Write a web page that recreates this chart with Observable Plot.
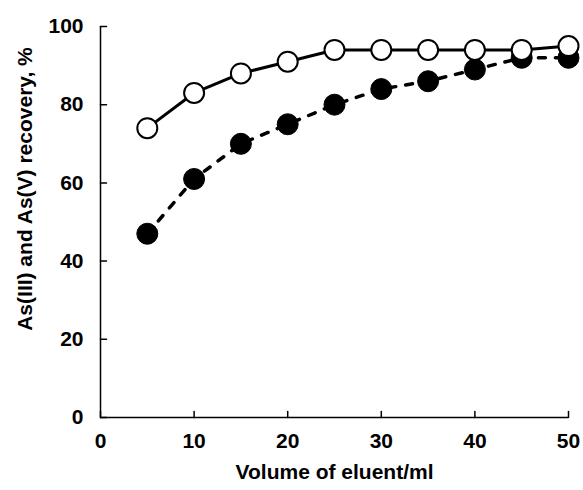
<!DOCTYPE html>
<html>
<head>
<meta charset="utf-8">
<script src="https://cdn.jsdelivr.net/npm/d3@7"></script>
<script src="https://cdn.jsdelivr.net/npm/@observablehq/plot@0.6"></script>
<style>
  html, body { margin: 0; padding: 0; background: #fff; }
  #chart svg { display: block; }
</style>
</head>
<body>
<div id="chart"></div>
<script>
const volume = [5, 10, 15, 20, 25, 30, 35, 40, 45, 50];
const asIII = [74, 83, 88, 91, 94, 94, 94, 94, 94, 95];   // open circles, solid line
const asV   = [47, 61, 70, 75, 80, 84, 86, 89, 92, 92];   // filled circles, dashed line
const xTicks = [0, 10, 20, 30, 40, 50];
const yTicks = [0, 20, 40, 60, 80, 100];
const xLabel = "Volume of eluent/ml";
const yLabel = "As(III) and As(V) recovery, %";

const open = volume.map((v, i) => ({x: v, y: asIII[i]}));
const filled = volume.map((v, i) => ({x: v, y: asV[i]}));

const font = "'Liberation Sans', Arial, sans-serif";
const tickShape = {draw(context, l) { context.moveTo(0, 0); context.lineTo(0, -l); }};

const chart = Plot.plot({
  width: 583,
  height: 490,
  marginLeft: 100,
  marginRight: 15,
  marginTop: 26,
  marginBottom: 73,
  style: {fontFamily: font, fontWeight: "bold", fontSize: "21px", color: "#000", background: "#fff"},
  x: {domain: [0, 50], label: null},
  y: {domain: [0, 100], label: null},
  marks: [
    Plot.ruleX([0], {stroke: "#000", strokeWidth: 1.5}),
    Plot.ruleY([0], {stroke: "#000", strokeWidth: 1.5}),
    Plot.vector(xTicks, {x: d => d, y: 0, length: 6, rotate: 0, anchor: "start", shape: tickShape, stroke: "#000", strokeWidth: 1.5}),
    Plot.vector(yTicks, {x: 0, y: d => d, length: 6, rotate: 90, anchor: "start", shape: tickShape, stroke: "#000", strokeWidth: 1.5}),
    Plot.axisX(xTicks, {tickSize: 0, tickPadding: 16, fontSize: 21, fontWeight: "bold", label: null}),
    Plot.axisY(yTicks, {tickSize: 0, tickPadding: 17, fontSize: 21, fontWeight: "bold", label: null}),
    Plot.text([xLabel], {frameAnchor: "bottom", dy: 61, text: d => d, fontSize: 21, fontWeight: "bold", letterSpacing: 1}),
    Plot.text([yLabel], {frameAnchor: "left", textAnchor: "middle", dx: -75, dy: -33, rotate: -90, text: d => d, fontSize: 21, fontWeight: "bold", letterSpacing: 2}),
    Plot.line(filled, {x: "x", y: "y", stroke: "#000", strokeWidth: 3.5, strokeDasharray: "7,10"}),
    Plot.line(open, {x: "x", y: "y", stroke: "#000", strokeWidth: 3}),
    Plot.dot(filled, {x: "x", y: "y", r: 10.5, fill: "#000", stroke: "#000", strokeWidth: 1}),
    Plot.dot(open, {x: "x", y: "y", r: 10, fill: "#fff", stroke: "#000", strokeWidth: 2})
  ]
});
document.getElementById("chart").appendChild(chart);
</script>
</body>
</html>
